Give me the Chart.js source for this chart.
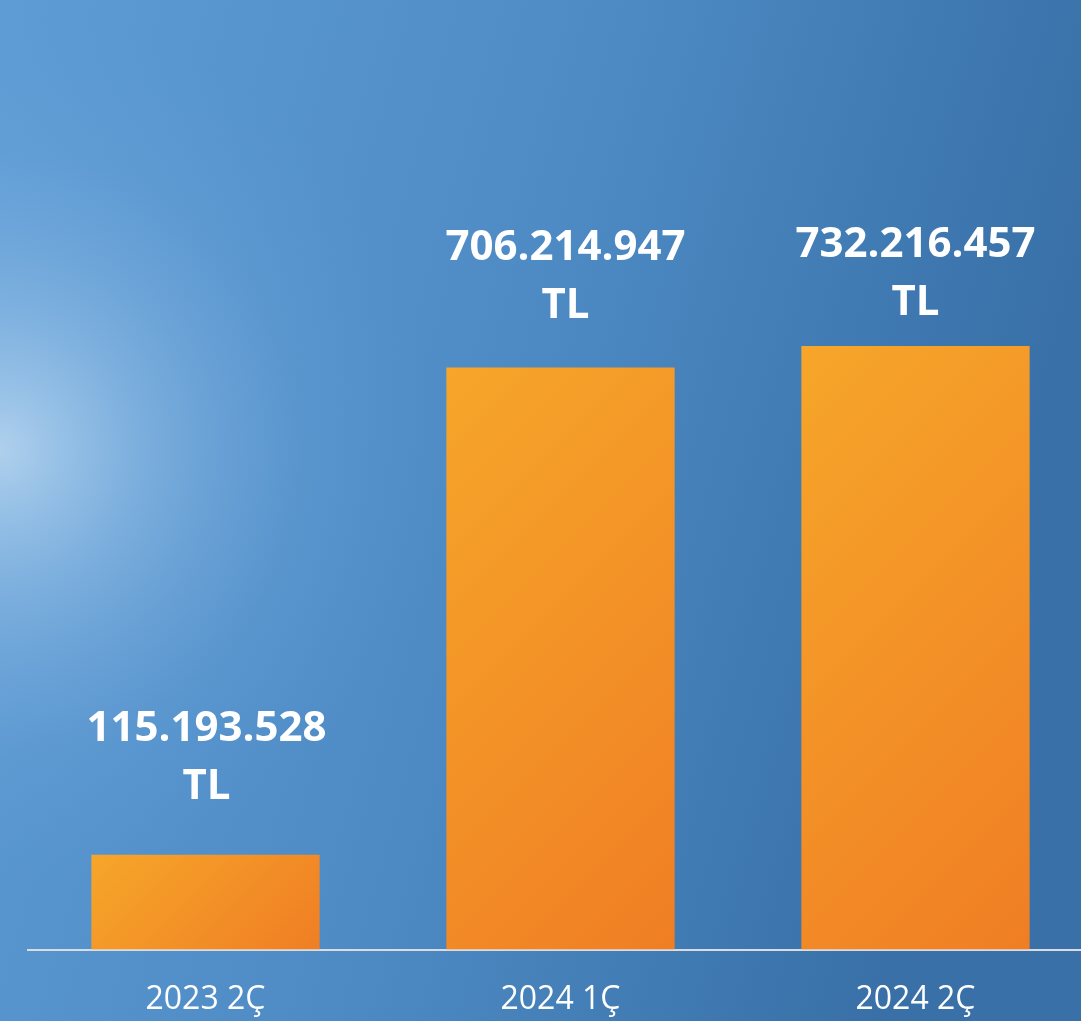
<!DOCTYPE html>
<html>
<head>
<meta charset="utf-8">
<script src="https://cdn.jsdelivr.net/npm/chart.js@4"></script>
<style>
  html, body { margin: 0; padding: 0; overflow: hidden; background: #4a86c0; }
  #wrap { position: absolute; left: 0; top: 0; width: 1100px; height: 1058px; }
</style>
</head>
<body>
<div id="wrap"><canvas id="myChart"></canvas></div>
<script>
const categories = ['2023 2Ç', '2024 1Ç', '2024 2Ç'];
const values = [115193528, 706214947, 732216457];
const unit = 'TL';

// small nudges so labels sit where the original put them
const labelGapY = [68, 61, 43];
const labelShiftX = [1, 5, 0];

const fmt = (v) => String(v).replace(/\B(?=(\d{3})+(?!\d))/g, '.');

const background = {
  id: 'background',
  beforeDraw(chart) {
    const { ctx, width, height } = chart;
    ctx.save();
    const lin = ctx.createLinearGradient(0, 0, 1081, 300);
    lin.addColorStop(0, '#5e9cd5');
    lin.addColorStop(0.5, '#4f8cc6');
    lin.addColorStop(1, '#3870a7');
    ctx.fillStyle = lin;
    ctx.fillRect(0, 0, width, height);
    const rad = ctx.createRadialGradient(0, 450, 0, 0, 450, 440);
    rad.addColorStop(0, 'rgba(190,218,242,0.85)');
    rad.addColorStop(0.35, 'rgba(160,200,236,0.45)');
    rad.addColorStop(0.7, 'rgba(130,180,228,0.12)');
    rad.addColorStop(1, 'rgba(110,165,220,0)');
    ctx.fillStyle = rad;
    ctx.fillRect(0, 0, width, height);
    ctx.restore();
  }
};

const valueLabels = {
  id: 'valueLabels',
  afterDatasetsDraw(chart) {
    const { ctx } = chart;
    const meta = chart.getDatasetMeta(0);
    ctx.save();
    ctx.fillStyle = '#ffffff';
    ctx.textAlign = 'center';
    ctx.textBaseline = 'middle';
    ctx.font = 'bold 42px "Open Sans"';
    meta.data.forEach((bar, i) => {
      const x = bar.x + labelShiftX[i];
      const yTL = bar.y - labelGapY[i];
      ctx.fillText(fmt(values[i]), x, yTL - 58);
      ctx.fillText(unit, x, yTL);
    });
    ctx.restore();
  }
};

const ctx = document.getElementById('myChart');

// 45 degree orange gradient, top-left light to bottom-right dark
function barFill(context) {
  const { chart, dataIndex, raw } = context;
  const xs = chart.scales.x;
  const ys = chart.scales.y;
  if (!chart.chartArea || !xs || !ys || raw === undefined) return '#f39a28';
  const cx = xs.getPixelForValue(dataIndex);
  const w = (xs.width / categories.length) * 0.643;
  const top = ys.getPixelForValue(raw);
  const base = ys.getPixelForValue(0);
  const d = (w + (base - top)) / 2;
  const left = cx - w / 2;
  const g = chart.ctx.createLinearGradient(left, top, left + d, top + d);
  g.addColorStop(0, '#f6a62a');
  g.addColorStop(1, '#f07e24');
  return g;
}

new Chart(ctx, {
  type: 'bar',
  data: {
    labels: categories,
    datasets: [
      {
        data: values,
        backgroundColor: barFill,
        borderWidth: 0,
        barPercentage: 0.643,
        categoryPercentage: 1,
      },
    ],
  },
  options: {
    responsive: true,
    maintainAspectRatio: false,
    animation: false,
    layout: { padding: { left: 28, right: 7, top: 10, bottom: 8 } },
    plugins: { legend: { display: false }, tooltip: { enabled: false } },
    scales: {
      x: {
        grid: { display: false, drawTicks: false },
        border: { display: true, color: '#d9dde3', width: 2 },
        ticks: {
          color: '#ffffff',
          padding: 31,
          font: { family: '"Open Sans"', size: 32 },
        },
      },
      y: {
        display: false,
        beginAtZero: true,
        min: 0,
        max: 1140000000,
      },
    },
  },
  plugins: [background, valueLabels],
});
</script>
</body>
</html>
